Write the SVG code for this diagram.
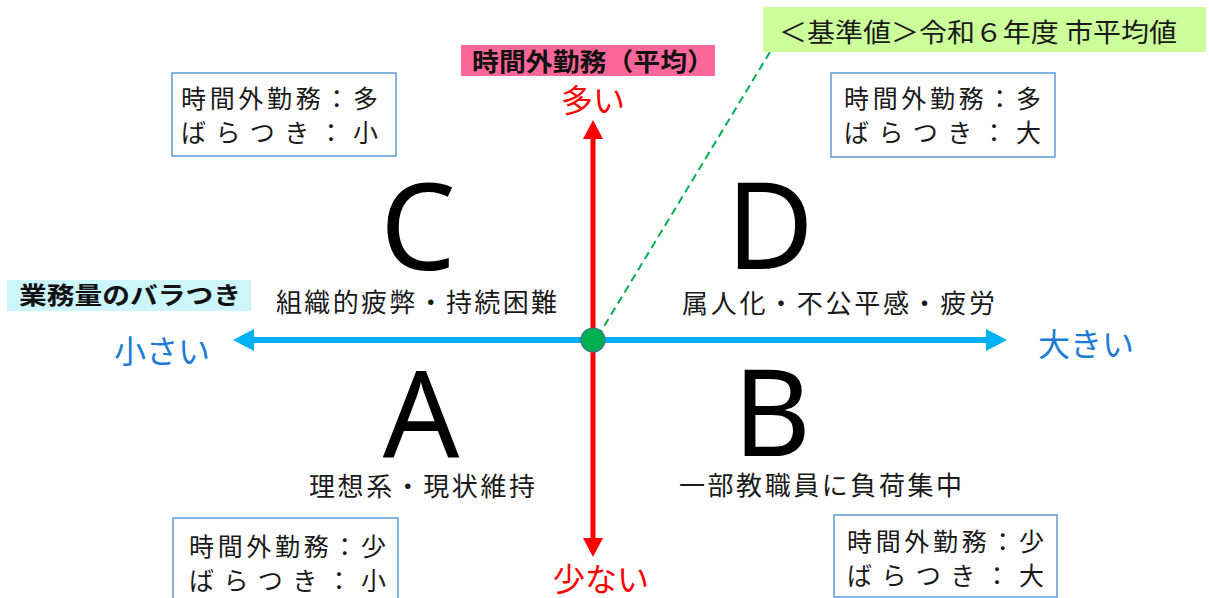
<svg xmlns="http://www.w3.org/2000/svg" width="1209" height="598" viewBox="0 0 1209 598">
<style>
.jp{font-family:"Noto Sans CJK JP","Noto Sans",sans-serif;fill:#1a1a1a}
.box{fill:#fff;stroke:#5b9bd5;stroke-width:1.5}
.bt{font-size:25px}
.q{font-size:26px}
.big{font-family:"Noto Sans","Open Sans",sans-serif;font-size:120px;fill:#000;text-anchor:middle}
.ax{font-size:32px}
</style>
<rect width="1209" height="598" fill="#fff"/>
<g id="connectors">
  <line x1="770" y1="52" x2="600" y2="333" stroke="#00b050" stroke-width="2" stroke-dasharray="8,5"/>
  <line x1="593" y1="137" x2="593" y2="540" stroke="#ff0000" stroke-width="5"/>
  <polygon points="593,120 583,139 603,139" fill="#ff0000"/>
  <polygon points="593,557 583,538 603,538" fill="#ff0000"/>
  <line x1="251" y1="340" x2="989" y2="340" stroke="#00b0f0" stroke-width="6"/>
  <polygon points="233,340 254,329 254,351" fill="#00b0f0"/>
  <polygon points="1007,340 986,329 986,351" fill="#00b0f0"/>
</g>
<g id="origin">
  <circle cx="593" cy="340" r="12" fill="#00b050" stroke="#41719c" stroke-width="1.2"/>
</g>
<g id="callout">
  <rect x="763" y="7" width="443" height="45" fill="#ccff99"/>
  <text class="jp" x="779" y="42" font-size="26" textLength="398" lengthAdjust="spacingAndGlyphs">＜基準値＞令和６年度 市平均値</text>
</g>
<g id="y-title">
  <rect x="461" y="45" width="254" height="31" fill="#ff6699"/>
  <text class="jp" x="472" y="71" font-size="25" font-weight="bold" textLength="242" lengthAdjust="spacingAndGlyphs" style="fill:#111">時間外勤務（平均）</text>
</g>
<g id="x-title">
  <rect x="7" y="280" width="244" height="31" fill="#ccf5fc"/>
  <text class="jp" x="19" y="304" font-size="24" font-weight="bold" textLength="222" lengthAdjust="spacingAndGlyphs" style="fill:#111">業務量のバラつき</text>
</g>
<g id="axis-labels">
  <text class="jp ax" x="593" y="112" text-anchor="middle" style="fill:#ff0000">多い</text>
  <text class="jp ax" x="601" y="591" text-anchor="middle" style="fill:#ff0000">少ない</text>
  <text class="jp ax" x="162" y="363" text-anchor="middle" style="fill:#1c7cd5">小さい</text>
  <text class="jp ax" x="1086" y="356" text-anchor="middle" style="fill:#1c7cd5">大きい</text>
</g>
<g id="quadrant-C">
  <text class="big" x="418" y="270">C</text>
  <text class="jp q" x="276" y="312" textLength="281" lengthAdjust="spacing">組織的疲弊・持続困難</text>
  <rect class="box" x="172" y="73" width="224" height="83"/>
  <text class="jp bt" x="181" y="108" textLength="197" lengthAdjust="spacing">時間外勤務：多</text>
  <text class="jp bt" x="181" y="142" textLength="197" lengthAdjust="spacing">ばらつき：小</text>
</g>
<g id="quadrant-D">
  <text class="big" x="770" y="269">D</text>
  <text class="jp q" x="682" y="313" textLength="313" lengthAdjust="spacing">属人化・不公平感・疲労</text>
  <rect class="box" x="831" y="73" width="224" height="84"/>
  <text class="jp bt" x="844" y="108" textLength="197" lengthAdjust="spacing">時間外勤務：多</text>
  <text class="jp bt" x="844" y="142" textLength="197" lengthAdjust="spacing">ばらつき：大</text>
</g>
<g id="quadrant-A">
  <text class="big" x="421" y="458">A</text>
  <text class="jp q" x="309" y="496" textLength="226" lengthAdjust="spacing">理想系・現状維持</text>
  <rect class="box" x="173" y="518" width="225" height="90"/>
  <text class="jp bt" x="189" y="556" textLength="197" lengthAdjust="spacing">時間外勤務：少</text>
  <text class="jp bt" x="189" y="590" textLength="197" lengthAdjust="spacing">ばらつき：小</text>
</g>
<g id="quadrant-B">
  <text class="big" x="772" y="456">B</text>
  <text class="jp q" x="679" y="495" textLength="283" lengthAdjust="spacing">一部教職員に負荷集中</text>
  <rect class="box" x="834" y="515" width="223" height="82"/>
  <text class="jp bt" x="847" y="551" textLength="197" lengthAdjust="spacing">時間外勤務：少</text>
  <text class="jp bt" x="847" y="585" textLength="197" lengthAdjust="spacing">ばらつき：大</text>
</g>
</svg>
